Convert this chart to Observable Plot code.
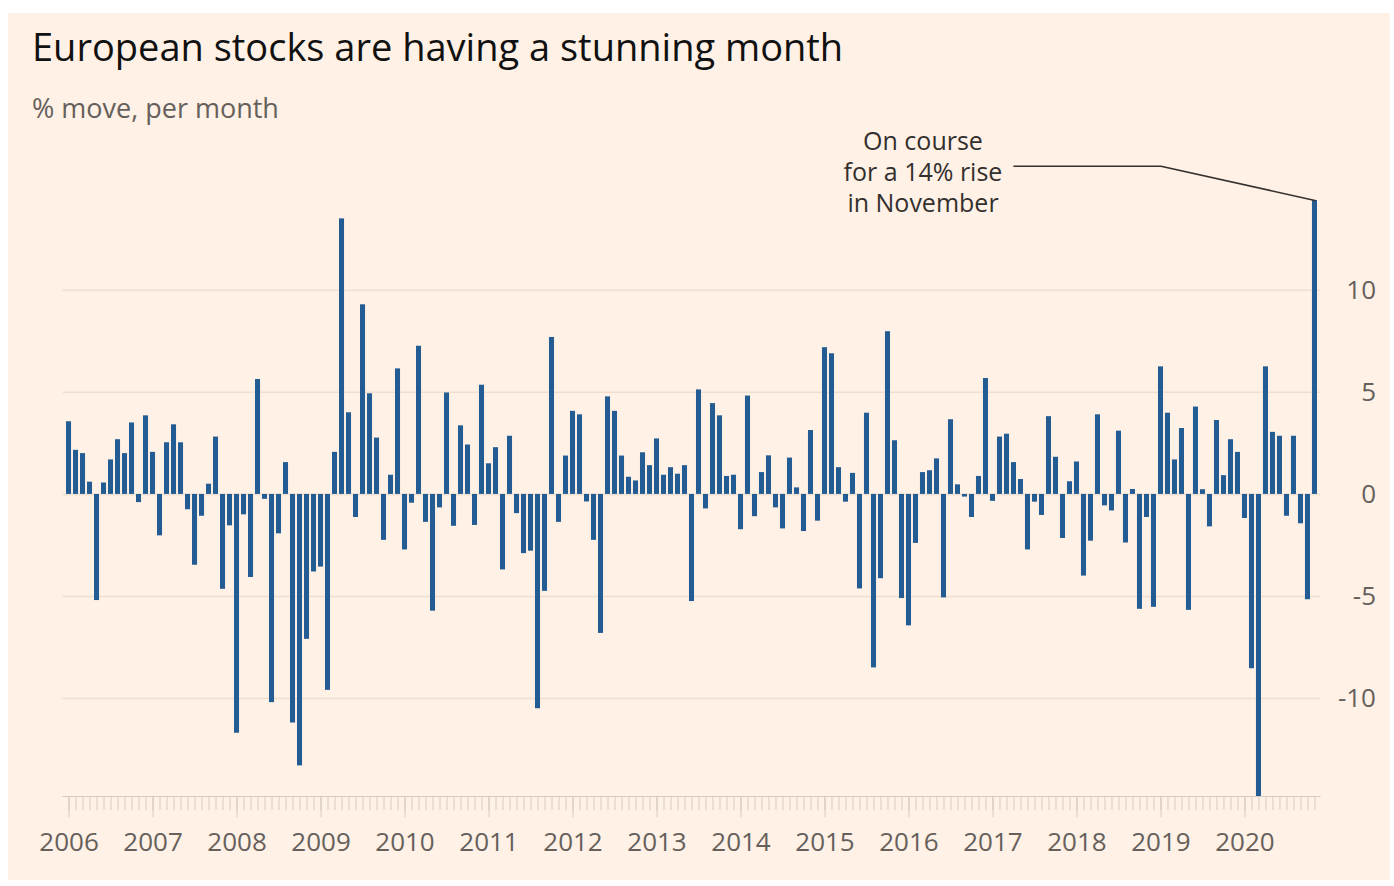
<!DOCTYPE html>
<html>
<head>
<meta charset="utf-8">
<script src="https://cdn.jsdelivr.net/npm/d3@7"></script>
<script src="https://cdn.jsdelivr.net/npm/@observablehq/plot@0.6"></script>
<style>
  html, body { margin: 0; padding: 0; background: #ffffff; }
  body { width: 1394px; height: 886px; position: relative; overflow: hidden; font-family: "Open Sans", sans-serif; }
  #panel { position: absolute; left: 8px; top: 13px; width: 1382px; height: 867px; background: #fff1e5; }
  #title { position: absolute; left: 32px; top: 27px; font-size: 38px; line-height: 1; color: #111; white-space: nowrap; }
  #subtitle { position: absolute; left: 32px; top: 94px; font-size: 27px; line-height: 1; color: #66605c; white-space: nowrap; }
  #chart { position: absolute; left: 0; top: 120px; }
</style>
</head>
<body>
<div id="panel"></div>
<div id="title">European stocks are having a stunning month</div>
<div id="subtitle">% move, per month</div>
<div id="chart"></div>
<script>
// ---- Data ----
const years = [2006, 2007, 2008, 2009, 2010, 2011, 2012, 2013, 2014, 2015, 2016, 2017, 2018, 2019, 2020];
const monthNames = ["Jan", "Feb", "Mar", "Apr", "May", "Jun", "Jul", "Aug", "Sep", "Oct", "Nov", "Dec"];
// % move per month, Jan 2006 .. Nov 2020
const moves = [
  3.56, 2.16, 2.0, 0.6, -5.2, 0.56, 1.69, 2.68, 2.0, 3.5, -0.4, 3.85,        // 2006
  2.06, -2.03, 2.53, 3.41, 2.53, -0.75, -3.47, -1.07, 0.5, 2.81, -4.65, -1.54, // 2007
  -11.7, -1.0, -4.07, 5.63, -0.24, -10.2, -1.93, 1.56, -11.2, -13.3, -7.1, -3.8, // 2008
  -3.56, -9.6, 2.06, 13.5, 4.0, -1.13, 9.29, 4.93, 2.76, -2.25, 0.94, 6.15,   // 2009
  -2.72, -0.43, 7.26, -1.37, -5.72, -0.66, 4.97, -1.56, 3.36, 2.42, -1.52, 5.35, // 2010
  1.5, 2.29, -3.7, 2.85, -0.94, -2.9, -2.78, -10.5, -4.75, 7.69, -1.37, 1.88, // 2011
  4.07, 3.9, -0.37, -2.25, -6.81, 4.78, 4.07, 1.88, 0.84, 0.66, 2.04, 1.41,   // 2012
  2.72, 0.94, 1.31, 0.99, 1.41, -5.25, 5.12, -0.71, 4.45, 3.85, 0.88, 0.94,   // 2013
  -1.73, 4.82, -1.09, 1.07, 1.89, -0.66, -1.69, 1.78, 0.32, -1.82, 3.13, -1.31, // 2014
  7.19, 6.89, 1.31, -0.38, 1.03, -4.63, 3.98, -8.5, -4.13, 7.97, 2.63, -5.1,  // 2015
  -6.44, -2.4, 1.07, 1.16, 1.74, -5.07, 3.66, 0.47, -0.13, -1.13, 0.88, 5.68, // 2016
  -0.34, 2.81, 2.95, 1.56, 0.73, -2.72, -0.38, -1.03, 3.81, 1.82, -2.16, 0.62, // 2017
  1.59, -4.0, -2.29, 3.9, -0.56, -0.81, 3.1, -2.38, 0.24, -5.63, -1.13, -5.53, // 2018
  6.25, 3.98, 1.69, 3.23, -5.68, 4.28, 0.23, -1.59, 3.62, 0.92, 2.68, 2.06,   // 2019
  -1.18, -8.54, -14.8, 6.25, 3.04, 2.85, -1.07, 2.85, -1.44, -5.16, 14.4      // 2020 (to Nov)
];
const yTicks = [-10, -5, 0, 5, 10];
const yDomain = [-14.8, 14.4];

// Annotation
const noteLines = ["On course", "for a 14% rise", "in November"];
const noteAt = {month: "2016-Mar", move: 15.83};
const leaderPoints = [
  {month: "2017-Apr", move: 16.08},
  {month: "2019-Jan", move: 16.08},
  {month: "2020-Nov", move: 14.4}
];

// ---- Build table ----
const months = years.flatMap(y => monthNames.map(m => `${y}-${m}`)).slice(0, moves.length);
const data = moves.map((v, i) => ({month: months[i], move: v}));
const januaries = months.filter(m => m.endsWith("-Jan"));

const chart = Plot.plot({
  width: 1394,
  height: 760,
  marginLeft: 62.5,
  marginRight: 73.5,
  marginTop: 80,
  marginBottom: 84,
  style: {fontFamily: "'Open Sans', sans-serif", background: "transparent", overflow: "visible"},
  x: {type: "band", domain: months, paddingInner: 0.28, paddingOuter: 0.5, axis: null, label: null},
  y: {domain: yDomain, axis: null, label: null},
  marks: [
    Plot.ruleY(yTicks, {stroke: "#f0dfd1", strokeWidth: 1.5}),
    Plot.barY(data, {x: "month", y: "move", fill: "#235b93"}),
    Plot.ruleY([yDomain[0]], {stroke: "#d6cbc1", strokeWidth: 1.2}),
    Plot.axisX({ticks: months, tickSize: 14, tickFormat: () => "", label: null,
      stroke: "#d6cbc1", strokeWidth: 1}),
    Plot.axisX({ticks: januaries, tickSize: 21, tickPadding: 15, tickFormat: d => d.slice(0, 4), label: null,
      stroke: "#d6cbc1", strokeWidth: 1, fill: "#66605c", fontSize: 26}),
    Plot.text(yTicks, {y: d => d, text: d => String(d), frameAnchor: "right", textAnchor: "end",
      dx: 55, fill: "#66605c", fontSize: 26}),
    Plot.line(leaderPoints, {x: "month", y: "move", stroke: "#33302e", strokeWidth: 1.6}),
    Plot.text([noteAt], {x: "month", y: "move", text: () => noteLines.join("\n"), textAnchor: "middle",
      lineAnchor: "middle", lineHeight: 1.24, fill: "#33302e", fontSize: 25})
  ]
});
document.getElementById("chart").appendChild(chart);
</script>
</body>
</html>
